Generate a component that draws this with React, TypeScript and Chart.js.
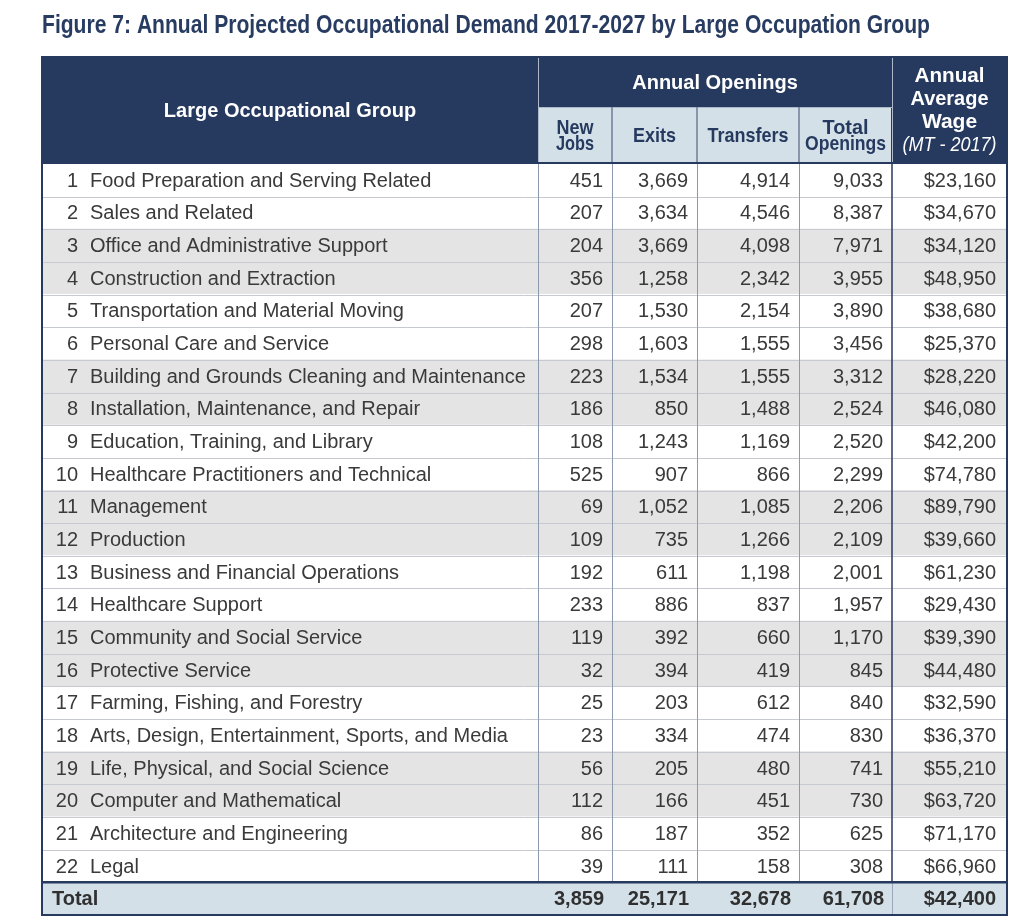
import React, { useEffect, useRef } from 'react';
import { Chart, registerables } from 'chart.js';

Chart.register(...registerables);

// ---------- data ----------
const TITLE = 'Figure 7: Annual Projected Occupational Demand 2017-2027 by Large Occupation Group';

const groups = [
  'Food Preparation and Serving Related',
  'Sales and Related',
  'Office and Administrative Support',
  'Construction and Extraction',
  'Transportation and Material Moving',
  'Personal Care and Service',
  'Building and Grounds Cleaning and Maintenance',
  'Installation, Maintenance, and Repair',
  'Education, Training, and Library',
  'Healthcare Practitioners and Technical',
  'Management',
  'Production',
  'Business and Financial Operations',
  'Healthcare Support',
  'Community and Social Service',
  'Protective Service',
  'Farming, Fishing, and Forestry',
  'Arts, Design, Entertainment, Sports, and Media',
  'Life, Physical, and Social Science',
  'Computer and Mathematical',
  'Architecture and Engineering',
  'Legal',
];

const newJobs = [451, 207, 204, 356, 207, 298, 223, 186, 108, 525, 69, 109, 192, 233, 119, 32, 25, 23, 56, 112, 86, 39];
const exits = [3669, 3634, 3669, 1258, 1530, 1603, 1534, 850, 1243, 907, 1052, 735, 611, 886, 392, 394, 203, 334, 205, 166, 187, 111];
const transfers = [4914, 4546, 4098, 2342, 2154, 1555, 1555, 1488, 1169, 866, 1085, 1266, 1198, 837, 660, 419, 612, 474, 480, 451, 352, 158];
const totalOpenings = [9033, 8387, 7971, 3955, 3890, 3456, 3312, 2524, 2520, 2299, 2206, 2109, 2001, 1957, 1170, 845, 840, 830, 741, 730, 625, 308];
const wages = [23160, 34670, 34120, 48950, 38680, 25370, 28220, 46080, 42200, 74780, 89790, 39660, 61230, 29430, 39390, 44480, 32590, 36370, 55210, 63720, 71170, 66960];

const totalLabel = 'Total';
const totalValues = [3859, 25171, 32678, 61708];
const totalWage = 42400;

const headerGroup = 'Large Occupational Group';
const headerOpenings = 'Annual Openings';
const subHeaders = [['New', 'Jobs'], ['Exits'], ['Transfers'], ['Total', 'Openings']];
const wageHeader = ['Annual', 'Average', 'Wage'];
const wageSub = '(MT - 2017)';

// ---------- layout / style ----------
const W = 1024;
const H = 917;
const COL_WIDTHS = [496, 74, 85, 102, 93, 115];
const PAD = { left: 42, right: 17, top: 164, bottom: 2 };
const HEADER_H = 107;
const SUBHEADER_H = 57;

const NAVY = '#263a5f';
const LIGHT_BLUE = '#d3e0e8';
const GRAY_ROW = '#e4e4e4';
const TEXT = '#3a3a3a';
const FONT = '"Liberation Sans", Arial, sans-serif';

const fmt = (v: number) => v.toLocaleString('en-US');

const rowLabels = [...groups.map((g, i) => `${i + 1} ${g}`), totalLabel];
const rowColors = rowLabels.map((_, i) =>
  i === groups.length ? LIGHT_BLUE : Math.floor(i / 2) % 2 === 1 ? GRAY_ROW : '#ffffff'
);

const tablePlugin = {
  id: 'tablePlugin',
  afterDatasetsDraw(chart: any) {
    const { ctx, chartArea, scales } = chart;
    const ys = scales.y;
    const L = chartArea.left;
    const R = chartArea.right;
    const T = chartArea.top;
    const B = chartArea.bottom;
    const sum = COL_WIDTHS.reduce((a, b) => a + b, 0);
    const k = (R - L) / sum;
    const edges: number[] = [L];
    COL_WIDTHS.forEach((w) => edges.push(edges[edges.length - 1] + w * k));
    const step = ys.getPixelForValue(1) - ys.getPixelForValue(0);
    const cy = (i: number) => ys.getPixelForValue(i);
    const top = (i: number) => cy(i) - step / 2;
    const totalTop = top(groups.length);

    ctx.save();

    // horizontal row lines
    ctx.strokeStyle = '#c6c9d2';
    ctx.lineWidth = 1;
    for (let i = 1; i < groups.length; i++) {
      const yy = Math.round(top(i)) + 0.5;
      ctx.beginPath();
      ctx.moveTo(L, yy);
      ctx.lineTo(R, yy);
      ctx.stroke();
    }
    // vertical lines in body
    for (let c = 1; c <= 4; c++) {
      const xx = Math.round(edges[c]) + 0.5;
      ctx.strokeStyle = '#8e98ae';
      ctx.lineWidth = 1;
      ctx.beginPath();
      ctx.moveTo(xx, T);
      ctx.lineTo(xx, totalTop);
      ctx.stroke();
    }
    ctx.strokeStyle = NAVY;
    ctx.lineWidth = 1.5;
    ctx.beginPath();
    ctx.moveTo(edges[5], T);
    ctx.lineTo(edges[5], totalTop);
    ctx.stroke();
    ctx.strokeStyle = '#9aa6ba';
    ctx.lineWidth = 1;
    ctx.beginPath();
    ctx.moveTo(Math.round(edges[5]) + 0.5, totalTop);
    ctx.lineTo(Math.round(edges[5]) + 0.5, B);
    ctx.stroke();
    // total row top border
    ctx.strokeStyle = NAVY;
    ctx.lineWidth = 2.5;
    ctx.beginPath();
    ctx.moveTo(L, totalTop);
    ctx.lineTo(R, totalTop);
    ctx.stroke();

    // body text
    ctx.textBaseline = 'middle';
    ctx.fillStyle = TEXT;
    ctx.font = `20px ${FONT}`;
    for (let i = 0; i < groups.length; i++) {
      const y = cy(i) + 1;
      ctx.textAlign = 'right';
      ctx.fillText(String(i + 1), L + 36, y);
      ctx.textAlign = 'left';
      ctx.fillText(groups[i], L + 48, y);
      ctx.textAlign = 'right';
      const vals = [newJobs[i], exits[i], transfers[i], totalOpenings[i]];
      vals.forEach((v, c) => ctx.fillText(fmt(v), edges[c + 2] - 9, y));
      ctx.fillText('$' + fmt(wages[i]), edges[6] - 11, y);
    }
    // total row text
    {
      const y = cy(groups.length) + 1;
      ctx.fillStyle = '#303030';
      ctx.font = `bold 20px ${FONT}`;
      ctx.textAlign = 'left';
      ctx.fillText(totalLabel, L + 10, y);
      ctx.textAlign = 'right';
      totalValues.forEach((v, c) => ctx.fillText(fmt(v), edges[c + 2] - 8, y));
      ctx.fillText('$' + fmt(totalWage), edges[6] - 11, y);
    }

    // header block
    const hTop = T - HEADER_H;
    const sTop = T - SUBHEADER_H;
    ctx.fillStyle = NAVY;
    ctx.fillRect(L, hTop, R - L, HEADER_H);
    ctx.fillStyle = LIGHT_BLUE;
    ctx.fillRect(edges[1] + 1, sTop + 1, edges[5] - edges[1] - 2, SUBHEADER_H - 2);

    ctx.strokeStyle = '#aeb8c9';
    ctx.lineWidth = 1;
    ctx.beginPath();
    ctx.moveTo(Math.round(edges[1]) + 0.5, hTop);
    ctx.lineTo(Math.round(edges[1]) + 0.5, T);
    ctx.moveTo(Math.round(edges[5]) + 0.5, hTop);
    ctx.lineTo(Math.round(edges[5]) + 0.5, T);
    ctx.moveTo(edges[1], Math.round(sTop) + 0.5);
    ctx.lineTo(edges[5], Math.round(sTop) + 0.5);
    ctx.stroke();
    ctx.strokeStyle = '#6f7c97';
    ctx.lineWidth = 1.5;
    for (let c = 2; c <= 4; c++) {
      ctx.beginPath();
      ctx.moveTo(edges[c], sTop);
      ctx.lineTo(edges[c], T);
      ctx.stroke();
    }
    ctx.strokeStyle = NAVY;
    ctx.lineWidth = 2;
    ctx.beginPath();
    ctx.moveTo(L, T - 1);
    ctx.lineTo(R, T - 1);
    ctx.stroke();

    // header text
    ctx.textAlign = 'center';
    ctx.textBaseline = 'middle';
    ctx.fillStyle = '#ffffff';
    ctx.font = `bold 20px ${FONT}`;
    ctx.fillText(headerGroup, (edges[0] + edges[1]) / 2, hTop + 54, 262);
    ctx.fillText(headerOpenings, (edges[1] + edges[5]) / 2, hTop + 26, 170);
    const wx = (edges[5] + edges[6]) / 2;
    ctx.font = `bold 21px ${FONT}`;
    ctx.fillText(wageHeader[0], wx, hTop + 19, 70);
    ctx.fillText(wageHeader[1], wx, hTop + 42, 78);
    ctx.fillText(wageHeader[2], wx, hTop + 65, 58);
    ctx.font = `italic 20px ${FONT}`;
    ctx.fillText(wageSub, wx, hTop + 88, 94);

    ctx.fillStyle = NAVY;
    ctx.font = `bold 21px ${FONT}`;
    const subW = [[37, 38], [43], [81], [46, 81]];
    subHeaders.forEach((lines, c) => {
      const x = (edges[c + 1] + edges[c + 2]) / 2;
      if (lines.length === 1) {
        ctx.fillText(lines[0], x, sTop + 29, subW[c][0]);
      } else {
        ctx.fillText(lines[0], x, sTop + 21, subW[c][0]);
        ctx.fillText(lines[1], x, sTop + 37, subW[c][1]);
      }
    });

    // outer border
    ctx.strokeStyle = NAVY;
    ctx.lineWidth = 2;
    ctx.strokeRect(L, hTop, R - L, B - hTop);

    // title
    ctx.textAlign = 'left';
    ctx.textBaseline = 'alphabetic';
    ctx.fillStyle = '#283c62';
    ctx.font = `bold 25px ${FONT}`;
    ctx.fillText(TITLE, L, 33, 888);

    ctx.restore();
  },
};

export default function App() {
  const ref = useRef<HTMLCanvasElement | null>(null);
  useEffect(() => {
    if (!ref.current) return;
    const chart = new Chart(ref.current, {
      type: 'bar',
      data: {
        labels: rowLabels,
        datasets: [
          {
            label: 'rows',
            data: rowLabels.map(() => 1),
            backgroundColor: rowColors,
            borderWidth: 0,
            barPercentage: 1,
            categoryPercentage: 1,
            inflateAmount: 0.5,
          } as any,
        ],
      },
      options: {
        indexAxis: 'y',
        responsive: false,
        animation: false,
        layout: { padding: PAD },
        scales: {
          x: { type: 'linear', min: 0, max: 1, display: false },
          y: { type: 'category', display: false, offset: true },
        },
        plugins: {
          legend: { display: false },
          tooltip: { enabled: false },
          title: { display: false },
        },
      },
      plugins: [tablePlugin],
    });
    return () => chart.destroy();
  }, []);
  return (
    <div style={{ position: 'fixed', left: 0, top: 0, width: W, height: H, background: '#ffffff' }}>
      <canvas ref={ref} width={W} height={H} style={{ display: 'block', width: W, height: H }} />
    </div>
  );
}
